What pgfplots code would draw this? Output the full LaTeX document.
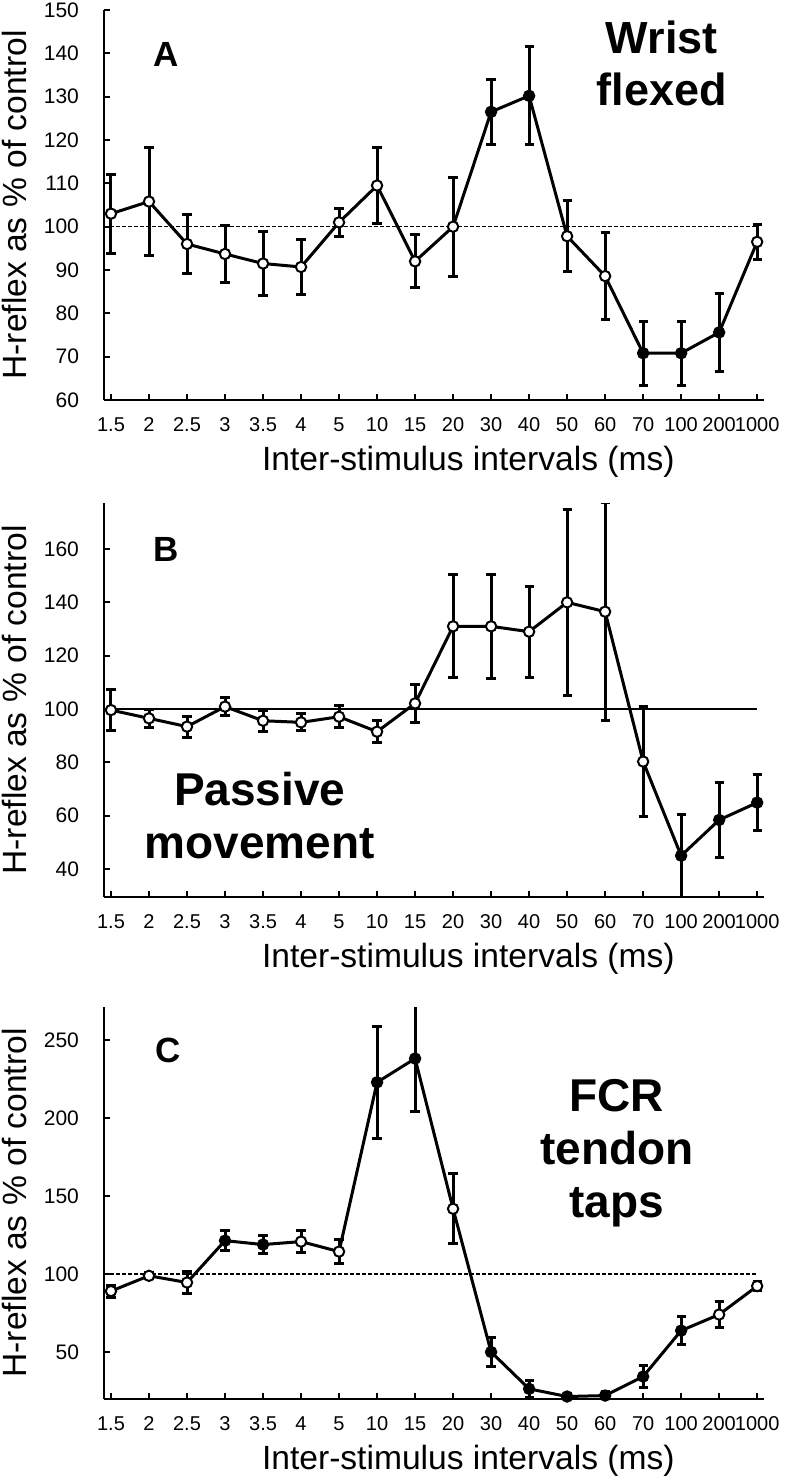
\documentclass[border=0pt]{standalone}
\usepackage{fontspec}
\setmainfont{Liberation Sans}
\usepackage{pgfplots}
\pgfplotsset{compat=1.18}
\usepackage{pgfplotstable}

% x = category index, y = mean, e = error, f = o (open) / f (filled)
\pgfplotstableread{
x y e f
0 103.0 9.1 o
1 105.8 12.5 o
2 96.0 6.8 o
3 93.7 6.6 o
4 91.5 7.3 o
5 90.7 6.3 o
6 101.0 3.2 o
7 109.5 8.8 o
8 92.0 6.1 o
9 100.0 11.4 o
10 126.5 7.5 f
11 130.2 11.3 f
12 97.8 8.2 o
13 88.6 10.0 o
14 70.8 7.4 f
15 70.8 7.4 f
16 75.6 9.0 f
17 96.5 4.0 o
}\dataA

\pgfplotstableread{
x y e f
0 99.6 7.8 o
1 96.5 3.5 o
2 93.4 3.9 o
3 100.9 3.5 o
4 95.6 3.9 o
5 95.0 3.2 o
6 97.1 4.1 o
7 91.5 4.2 o
8 102.1 7.0 o
9 131.0 19.3 o
10 131.0 19.4 o
11 129.0 17.0 o
12 140.0 35.0 o
13 136.5 40.8 o
14 80.3 20.6 o
15 45.0 15.5 f
16 58.4 13.9 f
17 64.9 10.5 f
}\dataB

\pgfplotstableread{
x y e f
0 89.1 3.8 o
1 98.9 2.0 o
2 94.6 7.0 o
3 121.4 6.6 f
4 118.9 5.9 f
5 120.8 7.0 o
6 114.4 7.7 o
7 222.8 35.7 f
8 238.0 34.0 f
9 141.8 22.5 o
10 50.1 9.4 f
11 26.5 5.5 f
12 21.6 2.0 f
13 22.2 2.5 f
14 34.4 7.2 f
15 63.8 9.0 f
16 74.1 8.5 o
17 92.3 3.0 o
}\dataC

\pgfplotsset{
  isi/.style={
    scale only axis, width=330pt,
    xmin=-0.184, xmax=17.18,
    axis x line=bottom, axis y line=left,
    axis line style={-, line width=0.9pt},
    tick style={black, line width=0.9pt},
    tick align=inside, major tick length=3pt,
    xtick={0,...,17},
    xticklabels={1.5,2,2.5,3,3.5,4,5,10,15,20,30,40,50,60,70,100,200,1000},
    xticklabel style={font=\fontsize{10}{12}\selectfont, text height=7.2pt, text depth=0pt, yshift=-5pt},
    yticklabel style={font=\fontsize{10.5}{12}\selectfont, xshift=-9pt},
    /pgf/number format/assume math mode=true,
    xlabel={Inter-stimulus intervals (ms)},
    ylabel={H-reflex as \% of control},
    label style={font=\fontsize{16.8}{20}\selectfont},
    xlabel style={at={(axis description cs:0.552,0)}, anchor=base, yshift=-35pt},
    ylabel style={at={(axis description cs:-0.118,0.5)}, anchor=base},
  },
  trace/.style={black, line width=1.5pt, mark=none},
  dots/.style={scatter, only marks, point meta=explicit symbolic, mark size=2.6pt,
    scatter/classes={
      o={mark=*, fill=white, draw=black, line width=1pt},
      f={mark=*, fill=black, draw=black, line width=1pt}},
    error bars/.cd, y dir=both, y explicit, error mark=-,
    error bar style={black, line width=1.5pt},
    error mark options={rotate=90, black, line width=1.5pt, mark size=2.3pt}},
}
\tikzset{
  lbl/.style={font=\bfseries\fontsize{17.5}{20}\selectfont},
  big/.style={font=\bfseries\fontsize{23}{26.5}\selectfont, align=center, inner sep=0pt},
}

\begin{document}
\begin{tikzpicture}
\useasboundingbox (0,0) rectangle (394pt,-739.5pt);

% Panel A
\begin{axis}[isi, at={(52pt,-200pt)}, anchor=south west, height=195pt,
  ymin=60, ymax=150, ytick={60,70,...,150}]
  \addplot[black, line width=0.8pt, dash pattern=on 2pt off 1pt] coordinates {(-0.184,100) (17,100)};
  \addplot[trace] table[x=x, y=y] {\dataA};
  \addplot[dots] table[x=x, y=y, y error=e, meta=f] {\dataA};
  \node[lbl] at (rel axis cs:0.094,0.887) {A};
  \node[big, font=\bfseries\fontsize{22.5}{26}\selectfont] at (rel axis cs:0.845,0.863) {Wrist\\flexed};
\end{axis}

% Panel B
\begin{axis}[isi, at={(52pt,-448.5pt)}, anchor=south west, height=197pt,
  ymin=29.5, ymax=177.25, ytick={40,60,...,160}]
  \addplot[black, line width=1.2pt] coordinates {(-0.184,100) (17,100)};
  \addplot[trace] table[x=x, y=y] {\dataB};
  \addplot[dots] table[x=x, y=y, y error=e, meta=f] {\dataB};
  \node[lbl] at (rel axis cs:0.094,0.883) {B};
  \node[big] at (rel axis cs:0.236,0.206) {Passive\\movement};
\end{axis}

% Panel C
\begin{axis}[isi, at={(52pt,-699.5pt)}, anchor=south west, height=196pt,
  ymin=20, ymax=271, ytick={50,100,...,250}]
  \addplot[black, line width=0.8pt, dash pattern=on 2pt off 1pt] coordinates {(-0.184,100) (17,100)};
  \addplot[trace] table[x=x, y=y] {\dataC};
  \addplot[dots] table[x=x, y=y, y error=e, meta=f] {\dataC};
  \node[lbl] at (rel axis cs:0.097,0.890) {C};
  \node[big] at (rel axis cs:0.777,0.626) {FCR\\tendon\\taps};
\end{axis}
\end{tikzpicture}
\end{document}
